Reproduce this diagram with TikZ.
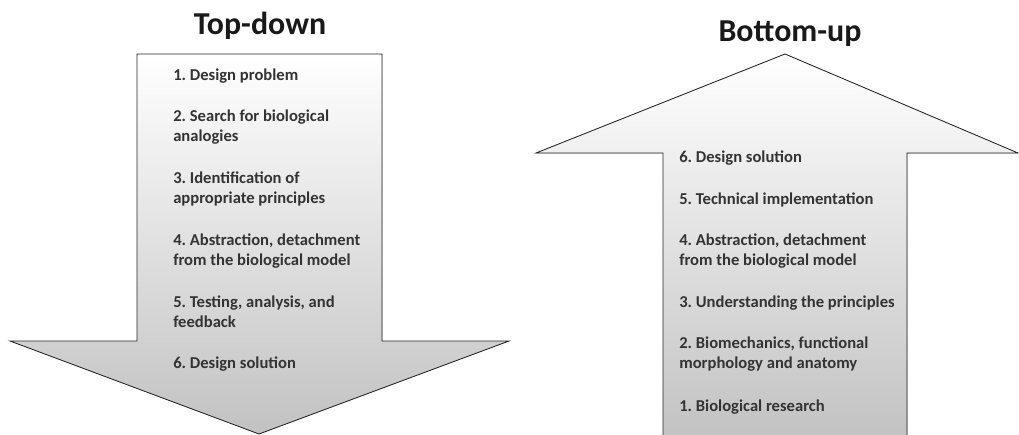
\documentclass[tikz,border=0pt]{standalone}
\usepackage{fontspec}
\setmainfont{Carlito}
\frenchspacing
\begin{document}
\begin{tikzpicture}[x=0.025cm, y=-0.025cm,
	arrowfill/.style={top color=white, bottom color=black!24, shading angle=0},
	arrowline/.style={draw=black!85, line width=0.6pt, line join=miter},
	steptext/.style={anchor=base west, align=left, inner sep=0pt, text=black!80,
		font=\bfseries\fontsize{11.8}{14.2}\selectfont},
	heading/.style={font=\bfseries\fontsize{22.7}{26}\selectfont, text=black!90}]
	\useasboundingbox (0,0) rectangle (1019,434);
	
	%top-down arrow
	\fill[arrowfill] (137,54) -- (382,54) -- (382,341) -- (509,341) -- (259,434)
		-- (10,341) -- (137,341) -- cycle;
	\draw[arrowline] (137,54) -- (382,54) -- (382,341) -- (509,341) -- (259,434)
		-- (10,341) -- (137,341) -- cycle;
	\node[heading] (tdtitle) at (260,26){Top-down};
	
	%steps, y = baseline of the last line
	\foreach \y/\t [count=\i] in {80/{1. Design problem},
		141/{2. Search for biological\\analogies},
		203/{3. Identification of\\appropriate principles},
		265/{4. Abstraction, detachment\\from the biological model},
		327/{5. Testing, analysis, and\\feedback},
		368/{6. Design solution}}{
		\node[steptext] (td\i) at (173,\y){\t};
	}
	
	%bottom-up arrow
	\fill[arrowfill] (663,440) -- (663,153) -- (536,153) -- (785,54) -- (1018,153)
		-- (907,153) -- (907,440) -- cycle;
	\draw[arrowline] (663,440) -- (663,153) -- (536,153) -- (785,54) -- (1018,153)
		-- (907,153) -- (907,440);
	\node[heading] (butitle) at (790,34){Bottom-up};
	
	\foreach \y/\t [count=\i] in {162/{6. Design solution},
		204/{5. Technical implementation},
		265/{4. Abstraction, detachment\\from the biological model},
		307/{3. Understanding the principles},
		368/{2. Biomechanics, functional\\morphology and anatomy},
		411/{1. Biological research}}{
		\node[steptext] (bu\i) at (679,\y){\t};
	}
\end{tikzpicture}
\end{document}
